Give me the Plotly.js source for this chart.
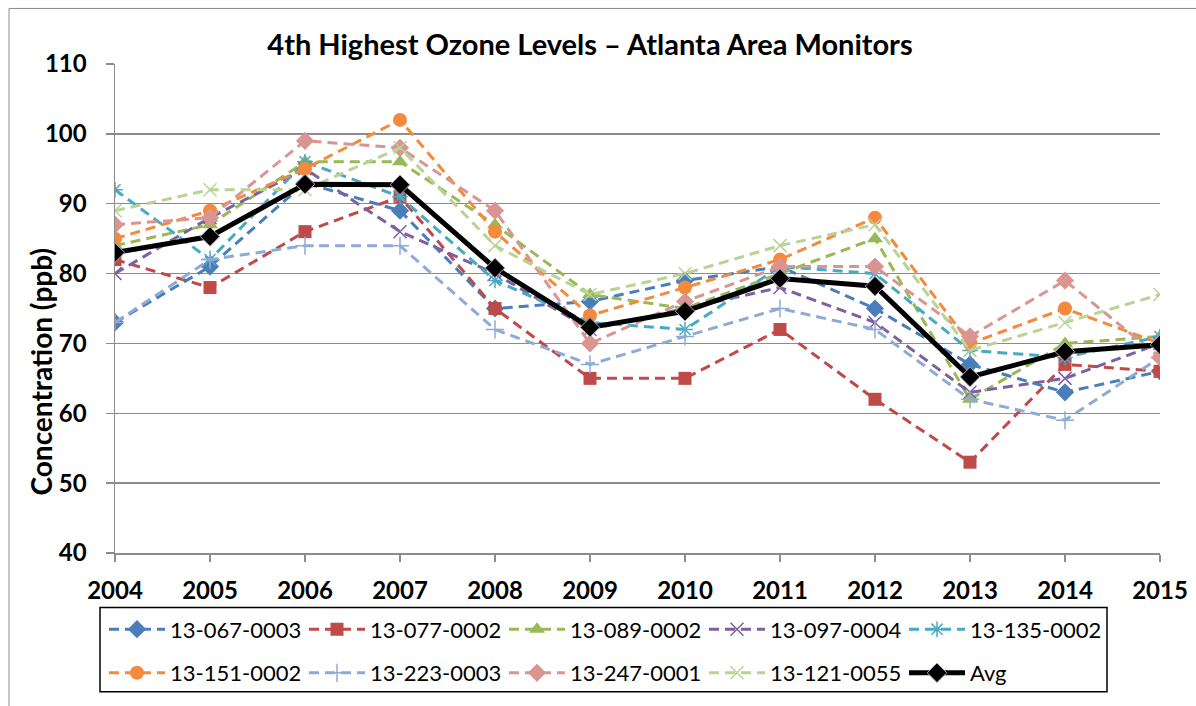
<!DOCTYPE html>
<html>
<head>
<meta charset="utf-8">
<script src="https://cdn.plot.ly/plotly-3.0.1.min.js"></script>
<style>
  html, body { margin: 0; padding: 0; background: #ffffff; }
  #chart { width: 1196px; height: 706px; }
</style>
</head>
<body>
<div id="chart"></div>
<script>
const years = [2004, 2005, 2006, 2007, 2008, 2009, 2010, 2011, 2012, 2013, 2014, 2015];
const yTicks = [40, 50, 60, 70, 80, 90, 100, 110];

const s13_067_0003 = [73, 81, 93, 89, 75, 76, 79, 81, 75, 67, 63, 66];
const s13_077_0002 = [82, 78, 86, 91, 75, 65, 65, 72, 62, 53, 67, 66];
const s13_089_0002 = [84, 87, 96, 96, 87, 77, 75, 80, 85, 62, 70, 71];
const s13_097_0004 = [80, 88, 95, 86, 80, 72, 75, 78, 73, 63, 65, 70];
const s13_135_0002 = [92, 82, 96, 91, 79, 73, 72, 81, 80, 69, 68, 71];
const s13_151_0002 = [85, 89, 95, 102, 86, 74, 78, 82, 88, 70, 75, 70];
const s13_223_0003 = [73, 82, 84, 84, 72, 67, 71, 75, 72, 62, 59, 68];
const s13_247_0001 = [87, 88, 99, 98, 89, 70, 76, 81, 81, 71, 79, 68];
const s13_121_0055 = [89, 92, 92, 98, 84, 77, 80, 84, 87, 69, 73, 77];
const avg = [83, 85.3, 92.8, 92.7, 80.8, 72.3, 74.6, 79.3, 78.2, 65.2, 68.8, 69.8];

const seriesNames = ['13-067-0003', '13-077-0002', '13-089-0002', '13-097-0004', '13-135-0002',
                     '13-151-0002', '13-223-0003', '13-247-0001', '13-121-0055', 'Avg'];
const seriesData = [s13_067_0003, s13_077_0002, s13_089_0002, s13_097_0004, s13_135_0002,
                    s13_151_0002, s13_223_0003, s13_247_0001, s13_121_0055, avg];

const styles = [
  {color: '#4A7EBB', symbol: 'diamond', size: 14, open: false},
  {color: '#BE4B48', symbol: 'square', size: 13, open: false},
  {color: '#98B954', symbol: 'triangle-up', size: 14, open: false},
  {color: '#7D60A0', symbol: 'x-thin-open', size: 13, open: true},
  {color: '#46AAC5', symbol: 'asterisk-open', size: 13, open: true},
  {color: '#F38A3C', symbol: 'circle', size: 14, open: false},
  {color: '#8EABD8', symbol: 'cross-thin-open', size: 13, open: true},
  {color: '#DA9593', symbol: 'diamond', size: 14, open: false},
  {color: '#B8D495', symbol: 'x-thin-open', size: 13, open: true}
];

const FONT = 'Lato, "Open Sans", "Liberation Sans", sans-serif';

const traces = [];
for (let i = 0; i < 9; i++) {
  const st = styles[i];
  traces.push({
    x: years, y: seriesData[i], name: seriesNames[i], type: 'scatter', mode: 'lines+markers',
    legend: i < 5 ? 'legend' : 'legend2',
    line: {color: st.color, width: 3, dash: '10px,6px'},
    marker: st.open
      ? {symbol: st.symbol, size: st.size, color: st.color, line: {color: st.color, width: 1.5}}
      : {symbol: st.symbol, size: st.size, color: st.color, line: {width: 0}}
  });
}
traces.push({
  x: years, y: avg, name: seriesNames[9], type: 'scatter', mode: 'lines+markers',
  legend: 'legend2',
  line: {color: '#000000', width: 5},
  marker: {symbol: 'diamond', size: 15, color: '#000000', line: {color: '#B3A2C7', width: 1}}
});

const L = 115, R = 1160, T = 64, B = 557;
const W = R - L, H = B - T;
const px = v => (v - L) / W;
const py = v => (B - v) / H;

const legendCommon = {
  orientation: 'h', bgcolor: 'rgba(0,0,0,0)', borderwidth: 0,
  font: {family: FONT, size: 22, color: '#000000'},
  entrywidth: 129, entrywidthmode: 'pixels', itemwidth: 56,
  xanchor: 'left', yanchor: 'middle', traceorder: 'normal', itemclick: false
};

const layout = {
  width: 1196, height: 706,
  margin: {l: L, r: 1196 - R, t: T, b: 706 - B},
  paper_bgcolor: '#ffffff', plot_bgcolor: '#ffffff',
  font: {family: FONT, color: '#000000'},
  title: {
    text: '<b>4th Highest Ozone Levels – Atlanta Area Monitors</b>',
    font: {family: FONT, size: 29, color: '#000000'},
    x: px(590), xanchor: 'center', xref: 'paper', y: 1 - 45 / 706, yanchor: 'middle'
  },
  xaxis: {
    type: 'linear', range: [years[0], years[years.length - 1]],
    tickmode: 'array', tickvals: years, ticktext: years.map(y => '<b>' + y + '</b>'),
    tickfont: {family: FONT, size: 24, color: '#000000'},
    ticks: 'outside', ticklen: 7, tickcolor: '#8C8C8C', tickwidth: 1.5,
    ticklabelstandoff: 9,
    showline: true, linecolor: '#8C8C8C', linewidth: 1.5,
    showgrid: false, zeroline: false, fixedrange: true
  },
  yaxis: {
    range: [40, 110], tickmode: 'array', tickvals: yTicks,
    ticktext: yTicks.map(v => '<b>' + v + '</b>'),
    tickfont: {family: FONT, size: 24, color: '#000000'},
    ticks: 'outside', ticklen: 8, tickcolor: '#8C8C8C', tickwidth: 1.5,
    ticklabelstandoff: 14,
    showline: true, linecolor: '#8C8C8C', linewidth: 1.5,
    showgrid: true, gridcolor: '#8C8C8C', gridwidth: 1.5, zeroline: false,
    fixedrange: true
  },
  annotations: [
    {text: '<b>Concentration (ppb)</b>', xref: 'paper', yref: 'paper', x: px(41), y: py(375),
     xanchor: 'center', yanchor: 'middle', textangle: -90, showarrow: false,
     font: {family: FONT, size: 28, color: '#000000'}}
  ],
  legend: Object.assign({}, legendCommon, {x: px(104), y: py(634)}),
  legend2: Object.assign({}, legendCommon, {x: px(104), y: py(678)}),
  shapes: [
    {type: 'rect', xref: 'paper', yref: 'paper', x0: px(100), x1: px(1107), y0: py(697), y1: py(612),
     line: {color: '#000000', width: 1.5}, fillcolor: 'rgba(0,0,0,0)', layer: 'below'},
    {type: 'rect', xref: 'paper', yref: 'paper', x0: px(9), x1: px(1210), y0: py(720), y1: py(8),
     line: {color: '#8C8C8C', width: 1}, fillcolor: 'rgba(0,0,0,0)', layer: 'below'}
  ],
  showlegend: true,
  hovermode: false
};

Plotly.newPlot('chart', traces, layout, {displayModeBar: false, staticPlot: true});
</script>
</body>
</html>
